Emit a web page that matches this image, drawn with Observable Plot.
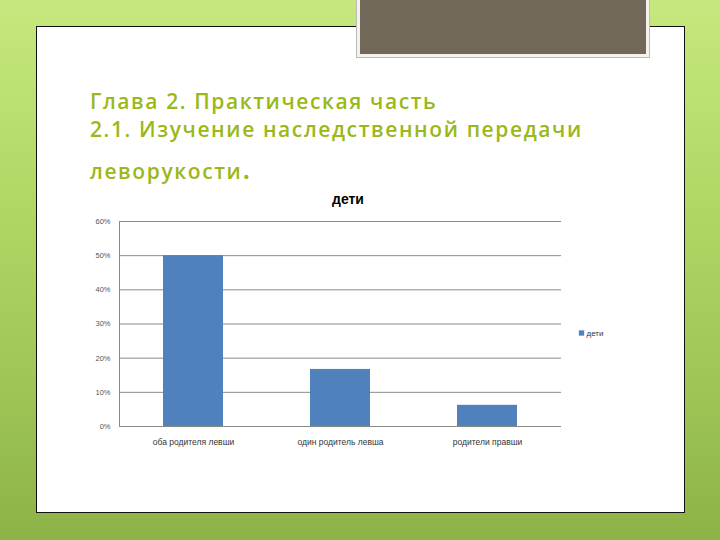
<!DOCTYPE html>
<html><head><meta charset="utf-8">
<script src="https://cdn.jsdelivr.net/npm/d3@7"></script>
<script src="https://cdn.jsdelivr.net/npm/@observablehq/plot@0.6"></script>
<style>
html,body{margin:0;padding:0;}
#slide{position:relative;width:720px;height:540px;overflow:hidden;
 background:linear-gradient(180deg,#c6e87e 0%,#b3d866 35%,#9cc354 75%,#8db247 100%);font-family:"Open Sans",sans-serif;}
#panel{position:absolute;left:36px;top:26px;width:647px;height:485px;background:#fff;border:1.5px solid #111;}
#box{position:absolute;left:357px;top:-4px;width:286px;height:55px;background:#716859;border:3px solid #f4f2ea;box-shadow:0 0 0 1px #bbb;}
.t{position:absolute;left:90px;color:#9ab818;font-family:"Open Sans",sans-serif;font-weight:600;font-size:21px;letter-spacing:1.6px;white-space:nowrap;}
#ct{position:absolute;left:298px;width:100px;top:191px;text-align:center;font-family:"Liberation Sans",Arial,sans-serif;font-weight:bold;font-size:14px;color:#000;}
#chart{position:absolute;left:0;top:0;}
</style></head>
<body>
<div id="slide">
 <div id="panel"></div>
 <div id="box"></div>
 <div class="t" style="top:87px">Глава 2. Практическая часть</div>
 <div class="t" style="top:115px">2.1. Изучение наследственной передачи</div>
 <div class="t" style="top:157px">леворукости<span style="font-size:28px;line-height:0">.</span></div>
 <div id="ct">дети</div>
 <div id="chart"></div>
</div>
<script>
const categories = ["оба родителя левши", "один родитель левша", "родители правши"];
const values = [0.50, 0.167, 0.062];
const yTicks = [0, 0.1, 0.2, 0.3, 0.4, 0.5, 0.6];
const seriesName = "дети";

const data = categories.map((c, i) => ({category: c, value: values[i]}));

const chart = Plot.plot({
  width: 720, height: 540,
  marginLeft: 119, marginRight: 159, marginTop: 221, marginBottom: 114,
  style: {background: "transparent", fontFamily: "Liberation Sans, Arial, sans-serif"},
  x: {domain: categories, paddingInner: 0.593, paddingOuter: 0.2965, label: null},
  y: {domain: [0, 0.6], label: null},
  marks: [
    Plot.gridY(yTicks, {stroke: "#8a8a8a", strokeOpacity: 1, strokeWidth: 1}),
    Plot.frame({anchor: "left", stroke: "#8a8a8a"}),
    Plot.barY(data, {x: "category", y: "value", fill: "#4f81bd"}),
    Plot.axisY({ticks: yTicks, tickFormat: d3.format(".0%"), tickSize: 0, tickPadding: 9, fontSize: 7.5, fill: "#555", label: null}),
    Plot.axisX({tickSize: 0, tickPadding: 12, fontSize: 8.5, fill: "#333", label: null}),
    Plot.dot([seriesName], {frameAnchor: "right", dx: 20, dy: 9, symbol: "square", r: 3, fill: "#4f81bd"}),
    Plot.text([seriesName], {frameAnchor: "right", dx: 25, dy: 9, textAnchor: "start", fontSize: 8, fill: "#333"})
  ]
});
document.getElementById("chart").append(chart);
</script>
</body></html>
